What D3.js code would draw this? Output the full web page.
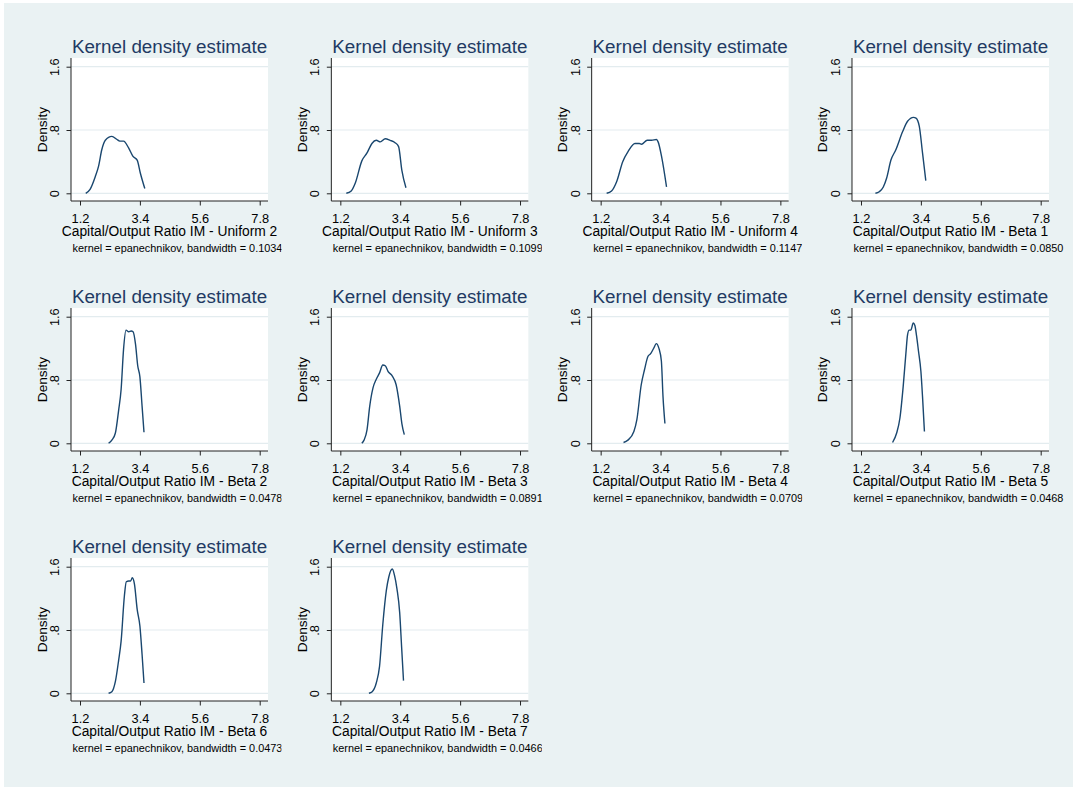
<!DOCTYPE html>
<html>
<head>
<meta charset="utf-8">
<script src="https://cdn.jsdelivr.net/npm/d3@7/dist/d3.min.js"></script>
<style>
  html, body { margin: 0; padding: 0; background: #ffffff; }
  svg { display: block; }
  text { font-family: "Liberation Sans", Arial, Helvetica, sans-serif; }
</style>
</head>
<body>
<svg id="chart" width="1073" height="787"></svg>
<script>
// ---------------- data ----------------
const panelLabels = [
  "Capital/Output Ratio IM - Uniform 2",
  "Capital/Output Ratio IM - Uniform 3",
  "Capital/Output Ratio IM - Uniform 4",
  "Capital/Output Ratio IM - Beta 1",
  "Capital/Output Ratio IM - Beta 2",
  "Capital/Output Ratio IM - Beta 3",
  "Capital/Output Ratio IM - Beta 4",
  "Capital/Output Ratio IM - Beta 5",
  "Capital/Output Ratio IM - Beta 6",
  "Capital/Output Ratio IM - Beta 7"
];
const bandwidths = ["0.1034", "0.1099", "0.1147", "0.0850", "0.0478",
                    "0.0891", "0.0709", "0.0468", "0.0473", "0.0466"];
const chartTitle = "Kernel density estimate";
const yAxisTitle = "Density";
const xTicks = [1.2, 3.4, 5.6, 7.8];
const xTickLabels = ["1.2", "3.4", "5.6", "7.8"];
const yTicks = [0, 0.8, 1.6];
const yTickLabels = ["0", ".8", "1.6"];

// density curves: [x, density]
const uniform2 = [[1.41,0],[1.57,0.05],[1.76,0.21],[1.88,0.34],[2.00,0.55],[2.13,0.67],[2.37,0.72],
  [2.56,0.68],[2.66,0.66],[2.80,0.66],[2.99,0.57],[3.14,0.47],[3.30,0.42],[3.42,0.25],[3.58,0.06]];
const uniform3 = [[1.42,0],[1.60,0.03],[1.75,0.13],[1.99,0.41],[2.18,0.51],[2.36,0.63],[2.52,0.67],
  [2.67,0.65],[2.85,0.69],[3.03,0.67],[3.21,0.64],[3.34,0.59],[3.46,0.29],[3.61,0.07]];
const uniform4 = [[1.42,0],[1.60,0.03],[1.79,0.15],[2.01,0.40],[2.21,0.53],[2.46,0.63],[2.62,0.63],
  [2.70,0.62],[2.91,0.67],[3.07,0.67],[3.25,0.68],[3.31,0.65],[3.44,0.46],[3.62,0.08]];
const beta1 = [[1.73,0],[1.87,0.02],[2.02,0.08],[2.14,0.19],[2.30,0.42],[2.48,0.55],[2.73,0.78],
  [2.91,0.91],[3.13,0.96],[3.22,0.95],[3.34,0.85],[3.46,0.51],[3.58,0.16]];
const beta2 = [[2.25,0],[2.37,0.04],[2.50,0.13],[2.62,0.42],[2.71,0.68],[2.80,1.19],[2.89,1.43],
  [2.99,1.41],[3.08,1.42],[3.15,1.41],[3.24,1.25],[3.32,0.98],[3.40,0.84],[3.48,0.47],[3.55,0.14]];
const beta3 = [[1.99,0],[2.07,0.04],[2.18,0.17],[2.28,0.47],[2.40,0.70],[2.52,0.81],[2.64,0.89],
  [2.76,0.99],[2.85,0.98],[2.95,0.91],[3.11,0.85],[3.25,0.74],[3.38,0.47],[3.46,0.25],[3.55,0.11]];
const beta4 = [[2.04,0.01],[2.20,0.04],[2.42,0.15],[2.53,0.30],[2.69,0.74],[2.81,0.93],[2.94,1.10],
  [3.03,1.13],[3.16,1.21],[3.24,1.26],[3.34,1.20],[3.43,1.04],[3.49,0.59],[3.56,0.25]];
const beta5 = [[2.36,0.01],[2.51,0.13],[2.63,0.32],[2.75,0.72],[2.85,1.14],[2.91,1.37],[2.97,1.43],
  [3.03,1.43],[3.12,1.52],[3.18,1.49],[3.24,1.36],[3.31,1.17],[3.40,0.91],[3.46,0.59],[3.53,0.15]];
const beta6 = [[2.25,0],[2.37,0.02],[2.50,0.15],[2.62,0.42],[2.71,0.66],[2.83,1.23],[2.90,1.41],
  [2.99,1.42],[3.06,1.42],[3.12,1.46],[3.20,1.38],[3.30,1.06],[3.40,0.85],[3.48,0.49],[3.55,0.13]];
const beta7 = [[2.25,0],[2.37,0.02],[2.52,0.13],[2.64,0.34],[2.76,0.87],[2.89,1.30],[2.98,1.47],
  [3.11,1.57],[3.19,1.49],[3.28,1.32],[3.38,1.02],[3.45,0.59],[3.52,0.16]];
const seriesData = [uniform2, uniform3, uniform4, beta1, beta2, beta3, beta4, beta5, beta6, beta7];

// ---------------- drawing ----------------
const svg = d3.select("#chart");
const W = 1073, H = 787;

svg.append("rect").attr("x", 0).attr("y", 0).attr("width", W).attr("height", H).attr("fill", "#ffffff");
svg.append("rect").attr("x", 4).attr("y", 3).attr("width", W - 4).attr("height", H - 3).attr("fill", "#eaf2f3");

const defs = svg.append("defs");
const colStep = 260.33, rowStep = 250;
const plotW = 197, plotH = 143;
const navy = "#1a476f";
const titleColor = "#223a63";

seriesData.forEach((pts, i) => {
  const col = i % 4, row = Math.floor(i / 4);
  const left = 71 + col * colStep;
  const top = 58 + row * rowStep;

  const clipId = "clip" + i;
  defs.append("clipPath").attr("id", clipId)
    .append("rect")
    .attr("x", left - 70).attr("y", top - 58)
    .attr("width", col === 3 ? 70 + 230 : 70 + 210.5)
    .attr("height", 270);

  const g = svg.append("g").attr("clip-path", `url(#${clipId})`);

  const x = d3.scaleLinear().domain([1.2, 7.8]).range([left + 9, left + 188.7]);
  const y = d3.scaleLinear().domain([0, 1.6]).range([top + 135.3, top + 8.7]);

  // plot region
  g.append("rect").attr("x", left).attr("y", top).attr("width", plotW).attr("height", plotH)
    .attr("fill", "#ffffff");

  // gridlines
  g.selectAll(".grid").data(yTicks).enter().append("line")
    .attr("x1", left).attr("x2", left + plotW)
    .attr("y1", d => y(d)).attr("y2", d => y(d))
    .attr("stroke", "#e3ecef").attr("stroke-width", 1.2);

  // title
  g.append("text").attr("x", left + plotW / 2).attr("y", top - 5.5)
    .attr("text-anchor", "middle").attr("font-size", "18.8px")
    .attr("fill", titleColor).text(chartTitle);

  // y axis
  const yAxis = d3.axisLeft(y).tickValues(yTicks)
    .tickFormat((d, k) => yTickLabels[k]).tickSize(4.5).tickSizeOuter(0);
  const ya = g.append("g").attr("transform", `translate(${left},0)`).call(yAxis);
  ya.select(".domain").remove();
  ya.selectAll(".tick line").attr("stroke", "#222").attr("stroke-width", 1);
  ya.selectAll(".tick text")
    .attr("x", 0).attr("y", 0).attr("dy", 0)
    .attr("text-anchor", "middle")
    .attr("transform", "translate(-12,0) rotate(-90)")
    .attr("font-size", "12.8px").attr("fill", "#000")
    .attr("font-family", "'Liberation Sans', Arial, sans-serif");
  g.append("line").attr("x1", left).attr("x2", left).attr("y1", top).attr("y2", top + plotH)
    .attr("stroke", "#222").attr("stroke-width", 1);

  g.append("text")
    .attr("transform", `translate(${left - 24.5},${top + plotH / 2}) rotate(-90)`)
    .attr("text-anchor", "middle").attr("font-size", "13.6px").attr("fill", "#000")
    .text(yAxisTitle);

  // x axis
  const xAxis = d3.axisBottom(x).tickValues(xTicks)
    .tickFormat((d, k) => xTickLabels[k]).tickSize(4.5).tickSizeOuter(0);
  const xa = g.append("g").attr("transform", `translate(0,${top + plotH})`).call(xAxis);
  xa.select(".domain").remove();
  xa.selectAll(".tick line").attr("stroke", "#222").attr("stroke-width", 1);
  xa.selectAll(".tick text")
    .attr("y", 0).attr("dy", 0)
    .attr("transform", "translate(0,22)")
    .attr("font-size", "12.8px").attr("fill", "#000")
    .attr("font-family", "'Liberation Sans', Arial, sans-serif");
  g.append("line").attr("x1", left).attr("x2", left + plotW)
    .attr("y1", top + plotH).attr("y2", top + plotH)
    .attr("stroke", "#222").attr("stroke-width", 1);

  g.append("text").attr("x", left + plotW / 2).attr("y", top + plotH + 35)
    .attr("text-anchor", "middle").attr("font-size", "13.8px").attr("fill", "#000")
    .text(panelLabels[i]);

  g.append("text").attr("x", left + 1.5).attr("y", top + plotH + 51)
    .attr("font-size", "10.9px").attr("fill", "#000")
    .text(`kernel = epanechnikov, bandwidth = ${bandwidths[i]}`);

  // density curve
  const line = d3.line().x(d => x(d[0])).y(d => y(d[1])).curve(d3.curveMonotoneX);
  g.append("path").datum(pts).attr("d", line)
    .attr("fill", "none").attr("stroke", navy).attr("stroke-width", 1.4)
    .attr("stroke-linejoin", "round");
});
</script>
</body>
</html>
